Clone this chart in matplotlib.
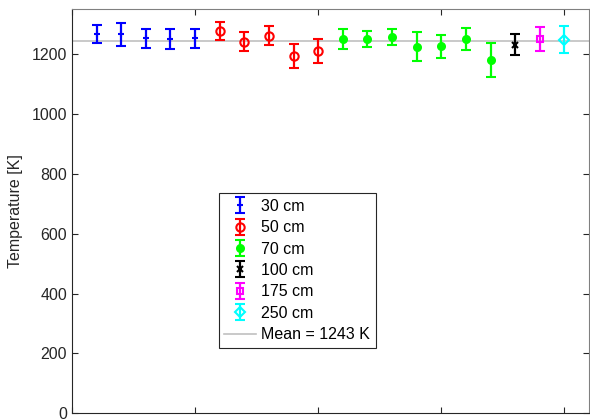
import matplotlib
matplotlib.use("Agg")
import matplotlib.pyplot as plt
import numpy as np

plt.rcParams['font.family'] = ['Liberation Sans', 'DejaVu Sans']

# data
groups = ["30 cm", "50 cm", "70 cm", "100 cm", "175 cm", "250 cm"]
t30 = [1267, 1265, 1252, 1250, 1252]
e30 = [30, 37, 32, 32, 32]
t50 = [1277, 1241, 1261, 1193, 1210]
e50 = [29, 31, 31, 41, 39]
t70 = [1251, 1250, 1256, 1224, 1225, 1251, 1181]
e70 = [33, 27, 26, 48, 38, 37, 57]
t100 = [1231]
e100 = [36]
t175 = [1250]
e175 = [39]
t250 = [1248]
e250 = [46]
mean_temp = 1243

series = [t30, t50, t70, t100, t175, t250]
errs = [e30, e50, e70, e100, e175, e250]
colors = ['#0000ff', '#ff0000', '#00ff00', '#000000', '#ff00ff', '#00ffff']
markers = ['+', 'o', 'o', 'x', 's', 'D']
mfcs = ['none', 'none', '#00ff00', 'none', 'none', 'none']
msizes = [5, 6, 5, 4, 5, 5]

fig = plt.figure(figsize=(5.9, 4.2), dpi=100)
ax = fig.add_axes([72/590, 1-413.3/420, 517/590, (413.3-9)/420])

idx = 1
handles = []
for vals, ee, c, m, mfc, ms, lab in zip(series, errs, colors, markers, mfcs, msizes, groups):
    x = np.arange(idx, idx + len(vals))
    idx += len(vals)
    h = ax.errorbar(x, vals, yerr=ee, fmt=m, color=c, mfc=mfc, mec=c, ms=ms,
                    mew=1.5, elinewidth=1.6, capsize=3.5, capthick=1.6, label=lab, zorder=3)
    handles.append(h)

ln, = ax.plot([0, 21], [mean_temp, mean_temp], color='#c0c0c0', lw=1.2, zorder=2,
              label=f"Mean = {mean_temp} K")
handles.append(ln)

ax.set_xlim(0, 21)
ax.set_ylim(0, 1350)
ax.set_xticks([0, 5, 10, 15, 20])
ax.set_xticklabels([])
ax.set_yticks([0, 200, 400, 600, 800, 1000, 1200])
ax.tick_params(direction='in', top=True, right=True, length=4, width=0.8,
               colors='#262626', labelsize=11.5, labelcolor='#262626')
for s in ax.spines.values():
    s.set_color('#262626')
    s.set_linewidth(0.8)
ax.spines['top'].set_color('#808080')
ax.spines['right'].set_color('#808080')
ax.set_ylabel("Temperature [K]", fontsize=11.5, color='#262626', labelpad=6)

leg = ax.legend(handles=handles, loc='lower left', bbox_to_anchor=(0.284, 0.162),
                fontsize=11.5, frameon=True, fancybox=False, framealpha=1,
                edgecolor='#262626', handlelength=2.0, handletextpad=0.3,
                labelspacing=0.4, borderpad=0.35, borderaxespad=0)
leg.get_frame().set_linewidth(0.8)

fig.savefig("out.png", dpi=100)
